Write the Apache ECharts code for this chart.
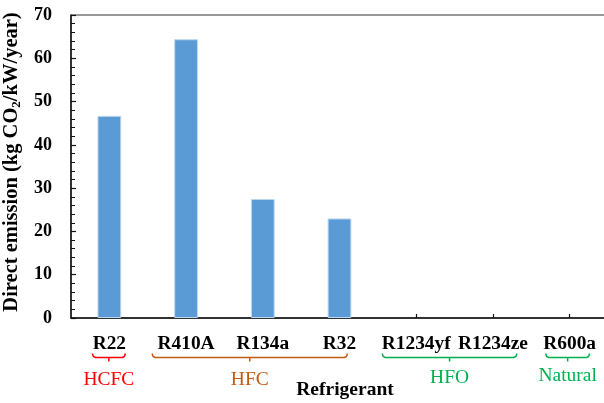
<!DOCTYPE html>
<html><head><meta charset="utf-8">
<script src="https://cdn.jsdelivr.net/npm/echarts@6/dist/echarts.min.js"></script>
<style>html,body{margin:0;padding:0;background:#fff}#c{width:604px;height:403px}</style>
</head><body><div id="c"></div>
<script>
const categories = ['R22', 'R410A', 'R134a', 'R32', 'R1234yf', 'R1234ze', 'R600a'];
const emissions = [46.7, 64.4, 27.5, 23.0, 0, 0, 0];
const yMin = 0, yMax = 70, yStep = 10;
const groupNames = ['HCFC', 'HFC', 'HFO', 'Natural'];
const groupFirst = ['R22', 'R410A', 'R1234yf', 'R600a'];
const groupLast = ['R22', 'R32', 'R1234ze', 'R600a'];

const groupColors = ['#FF0000', '#C55A11', '#00B050', '#00B050'];
const bracketPad = [[17, 16], [34, 8], [34, 24], [24, 20]];
const FONT = '"Liberation Serif", "Times New Roman", serif';

const chart = echarts.init(document.getElementById('c'), null, {renderer: 'canvas'});
chart.setOption({
  animation: false,
  backgroundColor: '#fff',
  grid: {left: 71, top: 15, bottom: 85, right: -4, containLabel: false, outerBoundsMode: 'none',
    show: true, borderColor: '#333', borderWidth: 1, backgroundColor: 'transparent'},
  xAxis: {
    type: 'category', data: categories, boundaryGap: true,
    name: 'Refrigerant', nameLocation: 'middle', nameGap: 62,
    nameTextStyle: {fontFamily: FONT, fontWeight: 'bold', fontSize: 19.5, color: '#000', padding: [0, 0, 0, 11]},
    axisLine: {lineStyle: {color: '#111', width: 1.5}},
    axisTick: {show: true, inside: true, alignWithLabel: true, length: 4, lineStyle: {color: '#111', width: 1.2}},
    axisLabel: {fontFamily: FONT, fontWeight: 'bold', fontSize: 19.4, color: '#000', margin: 16, interval: 0},
    splitLine: {show: false}
  },
  yAxis: {
    type: 'value', min: yMin, max: yMax, interval: yStep,
    name: 'Direct emission (kg CO{sub|2}/kW/year)', nameLocation: 'middle', nameGap: 48, nameRotate: 90,
    nameTextStyle: {fontFamily: FONT, fontWeight: 'bold', fontSize: 20.5, color: '#000', padding: [0, 0, 0, 9],
      rich: {sub: {fontFamily: FONT, fontWeight: 'bold', fontSize: 13, color: '#000', verticalAlign: 'bottom', padding: [9, 0, 0, 0]}}},
    axisLine: {show: true, lineStyle: {color: '#111', width: 1.5}},
    axisTick: {show: true, inside: true, length: 5, lineStyle: {color: '#111', width: 1.2}},
    minorTick: {show: true, splitNumber: 5, length: 4, lineStyle: {color: '#111', width: 1}},
    axisLabel: {fontFamily: FONT, fontWeight: 'bold', fontSize: 18, color: '#000', margin: 19},
    splitLine: {show: false}
  },
  series: [{
    type: 'bar', barWidth: '31%',
    data: emissions.map(function (v) { return v === 0 ? {value: v, itemStyle: {borderWidth: 0}} : v; }),
    itemStyle: {color: '#5B9BD5', borderColor: '#BDD7EE', borderWidth: 1}
  }]
});

function px(cat) { return chart.convertToPixel({xAxisIndex: 0}, cat); }
const yB = 357.5;
const graphics = [];
groupNames.forEach(function (g, i) {
  const x1 = px(groupFirst[i]) - bracketPad[i][0];
  const x2 = px(groupLast[i]) + bracketPad[i][1];
  const cx = (x1 + x2) / 2;
  const col = groupColors[i];
  graphics.push({
    type: 'polyline', silent: true,
    shape: {points: [[x1, yB - 4], [x1 + 1, yB - 1], [x1 + 3, yB], [x2 - 3, yB], [x2 - 1, yB - 1], [x2, yB - 4]]},
    style: {stroke: col, lineWidth: 1.5, fill: null}
  });
  graphics.push({
    type: 'line', silent: true,
    shape: {x1: cx, y1: yB, x2: cx, y2: yB + 4},
    style: {stroke: col, lineWidth: 1.5}
  });
  graphics.push({
    type: 'text', silent: true, x: cx, y: i >= 2 ? (i === 3 ? 376 : 378) : 380,
    style: {text: g, fill: col, font: '19.5px ' + FONT, textAlign: 'center', textVerticalAlign: 'middle'}
  });
});
chart.setOption({graphic: graphics});
</script></body></html>
